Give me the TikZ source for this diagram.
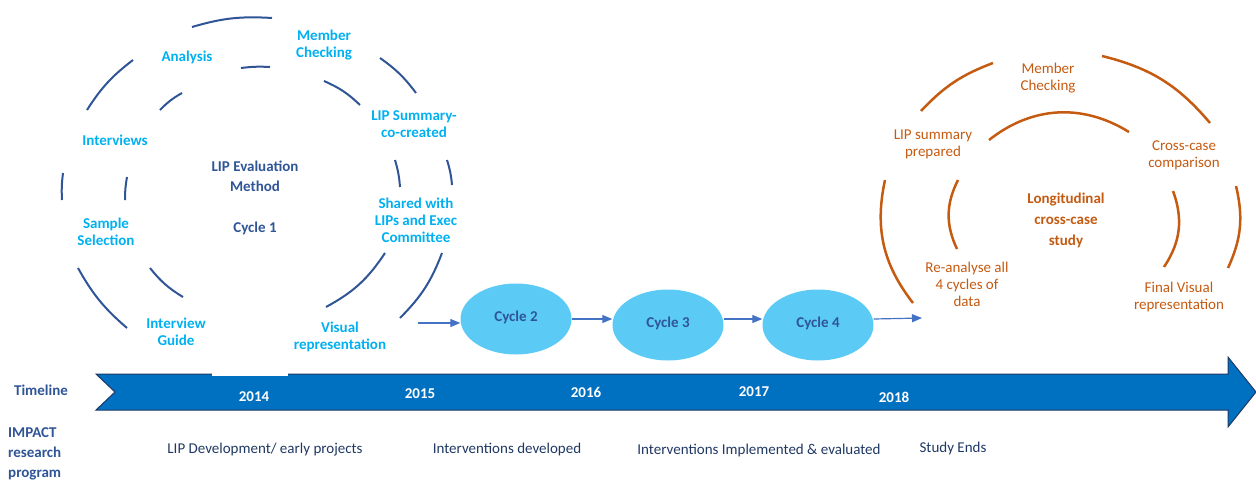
\documentclass[tikz,border=0pt]{standalone}
\usepackage{fontspec}
\setmainfont{Carlito}
\usetikzlibrary{shapes.geometric,arrows.meta}
\definecolor{ringblue}{HTML}{2F5597}
\definecolor{lblblue}{HTML}{00B0F0}
\definecolor{cycfill}{HTML}{5BCBF5}
\definecolor{flowblue}{HTML}{4472C4}
\definecolor{tlblue}{HTML}{0070C0}
\definecolor{tledge}{HTML}{1F3864}
\definecolor{ringorange}{HTML}{C55A11}
\definecolor{navytext}{HTML}{203864}
\begin{document}
\begin{tikzpicture}[x=1pt,y=1pt,
  bluering/.style={draw=ringblue, line width=2pt},
  orangering/.style={draw=ringorange, line width=2.5pt},
  steplbl/.style={text=lblblue, font=\fontsize{15}{17}\selectfont\bfseries, align=center, inner sep=0pt},
  midlbl/.style={text=ringblue, font=\fontsize{15}{20}\selectfont\bfseries, align=center, inner sep=0pt},
  orangelbl/.style={text=ringorange, font=\fontsize{15}{17}\selectfont, align=center, inner sep=0pt},
  cyclenode/.style={ellipse, fill=cycfill, minimum width=111pt, minimum height=71pt, inner sep=0pt, text=ringblue, font=\fontsize{15}{17}\selectfont\bfseries},
  flow/.style={draw=flowblue, line width=1.2pt, -{Triangle[length=10pt,width=8pt]}},
  yearlbl/.style={text=white, font=\fontsize{15}{17}\selectfont\bfseries, inner sep=0pt},
  sidelbl/.style={text=ringblue, font=\fontsize{15}{20}\selectfont\bfseries, align=left, inner sep=0pt},
  phaselbl/.style={text=navytext, font=\fontsize{15}{17}\selectfont, inner sep=0pt}]
\useasboundingbox (0,0) rectangle (1256,-483);
% cycle 1 rings
\draw[bluering] (192,-27) to[bend left=10] (272,-18);
\draw[bluering] (87,-110) to[bend left=10] (133,-60);
\draw[bluering] (62,-200) to[bend left=5] (63,-173);
\draw[bluering] (127,-328) to[bend left=10] (78,-268);
\draw[bluering] (380,-58) to[bend left=9] (416,-93);
\draw[bluering] (447,-160) to[bend left=6] (452,-185);
\draw[bluering] (442,-253) to[bend left=12] (400,-318);
\draw[bluering] (241,-68) to[bend left=5] (270,-67);
\draw[bluering] (160,-110) to[bend left=8] (182,-93);
\draw[bluering] (125,-200) to[bend left=5] (127,-177);
\draw[bluering] (183,-297) to[bend left=10] (150,-268);
\draw[bluering] (324,-81) to[bend left=10] (360,-105);
\draw[bluering] (395,-160) to[bend left=6] (400,-187);
\draw[bluering] (385,-253) to[bend left=14] (326,-307);
\node[steplbl] (ana) at (187,-57){Analysis};
\node[steplbl] (mem) at (324,-45){Member\\Checking};
\node[steplbl] (summ) at (414,-124){LIP Summary-\\co-created};
\node[steplbl] (intv) at (115,-140){Interviews};
\node[steplbl] (samp) at (106,-232){Sample\\Selection};
\node[steplbl] (shar) at (416,-220){Shared with\\LIPs and Exec\\Committee};
\node[steplbl] (guid) at (176,-332){Interview\\Guide};
\node[steplbl] (visu) at (340,-337){Visual\\representation};
\node[midlbl] (eval) at (255,-176){LIP Evaluation\\Method};
\node[midlbl] (cyc1) at (255,-228){Cycle 1};
% cycles 2 to 4
\node[cyclenode] (cyc2) at (516,-319){\raisebox{5pt}{Cycle 2}};
\node[cyclenode] (cyc3) at (668,-325){\raisebox{5pt}{Cycle 3}};
\node[cyclenode] (cyc4) at (818,-325){\raisebox{5pt}{Cycle 4}};
\coordinate (c1out) at (418,-323);
\coordinate (lonin) at (922,-318);
\draw[flow] (c1out) -- (c1out -| cyc2.west);
\draw[flow] (cyc2.east) -- (cyc2.east -| cyc3.west);
\draw[flow] ([yshift=6pt]cyc3.east) -- ([yshift=6pt]cyc4.west);
\draw[flow] ([yshift=6pt]cyc4.east) -- (lonin);
% longitudinal rings
\draw[orangering] (921,-111) to[bend left=13] (993,-63);
\draw[orangering] (1102,-56) to[bend left=18] (1210,-123);
\draw[orangering] (913,-303) to[bend left=25] (885,-180);
\draw[orangering] (1236,-186) to[bend left=19] (1228,-268);
\draw[orangering] (989,-140) to[bend left=35] (1129,-132);
\draw[orangering] (957,-249) to[bend left=26] (958,-180);
\draw[orangering] (1173,-191) to[bend left=27] (1164,-267);
\node[orangelbl] (omem) at (1048,-78){Member\\Checking};
\node[orangelbl] (oprep) at (933,-144){LIP summary\\prepared};
\node[orangelbl] (ocomp) at (1184,-155){Cross-case\\comparison};
\node[orangelbl, font=\fontsize{15}{21}\selectfont\bfseries] (olong) at (1066,-220){Longitudinal\\cross-case\\study};
\node[orangelbl] (oreana) at (967,-284){Re-analyse all\\4 cycles of\\data};
\node[orangelbl] (ofinal) at (1179,-297){Final Visual\\representation};
% timeline
\draw[fill=tlblue, draw=tledge, line width=1pt] (96,-374) -- (1228,-374) -- (1228,-357) -- (1256,-392) -- (1228,-427) -- (1228,-410) -- (96,-410) -- (115,-392) -- cycle;
\fill[white] (212,-362) rectangle (288,-375.5);
\node[yearlbl] (y14) at (254,-397){2014};
\node[yearlbl] (y15) at (420,-394){2015};
\node[yearlbl] (y16) at (586,-392){2016};
\node[yearlbl] (y17) at (754,-392){2017};
\node[yearlbl] (y18) at (894,-397){2018};
\node[sidelbl] (tline) at (41,-390){Timeline};
\node[sidelbl, anchor=west] (impact) at (8,-454){IMPACT\\research\\program};
\node[phaselbl] (ph1) at (265,-450){LIP Development/ early projects};
\node[phaselbl] (ph2) at (507,-449){Interventions developed};
\node[phaselbl] (ph3) at (759,-450){Interventions Implemented \& evaluated};
\node[phaselbl] (ph4) at (953,-448){Study Ends};
\end{tikzpicture}
\end{document}
